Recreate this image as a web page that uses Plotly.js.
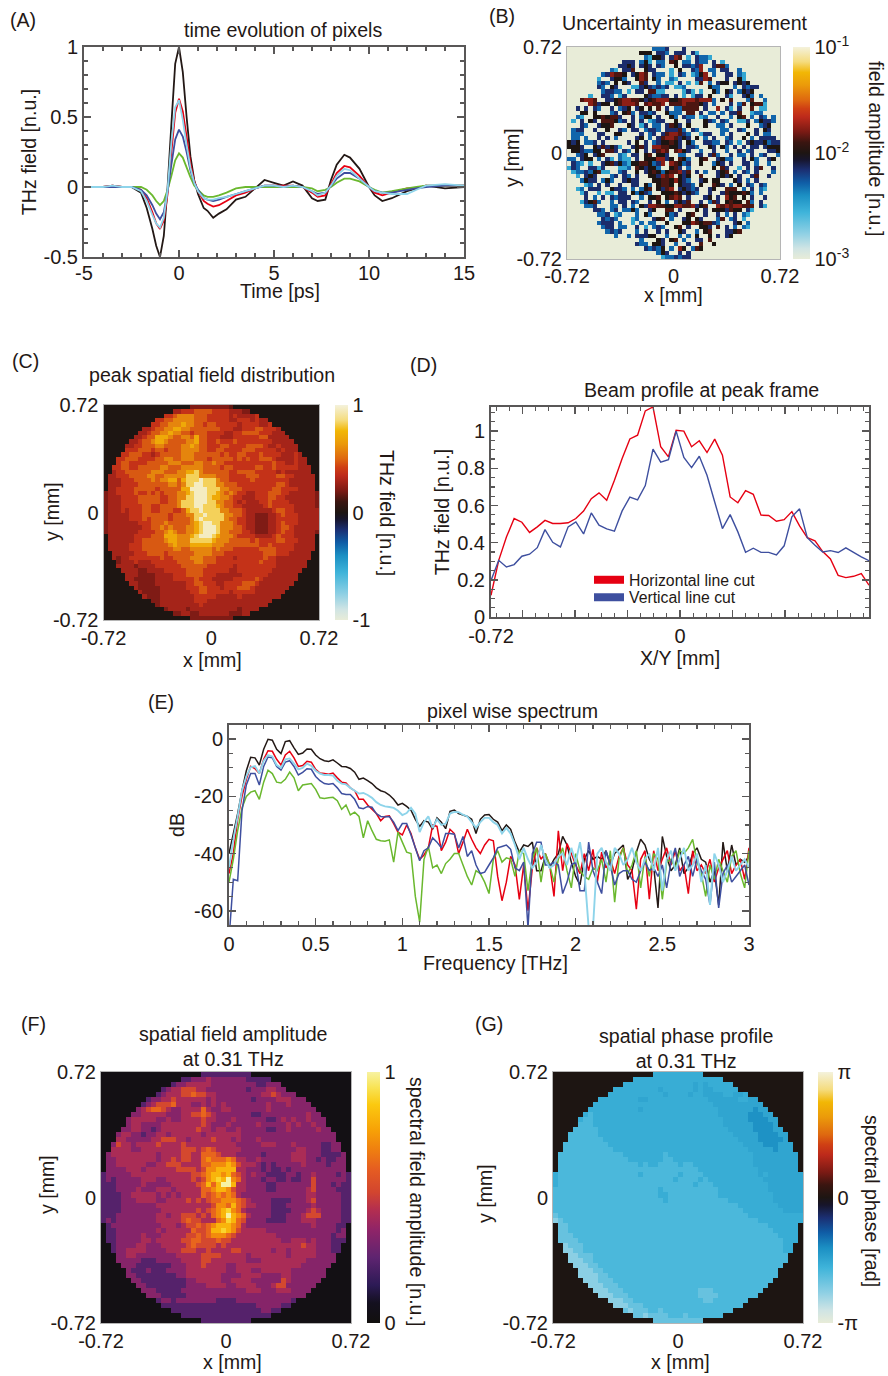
<!DOCTYPE html>
<html><head><meta charset="utf-8">
<script src="https://cdn.plot.ly/plotly-3.0.1.min.js"></script>
<style>html,body{margin:0;padding:0;background:#fff}</style></head>
<body><div id="chart" style="width:888px;height:1376px"></div>
<script>
// ---------- Panel A ----------
const tA=[-5,-4,-3.5,-3,-2.5,-2,-1.7,-1.4,-1.2,-1,-0.8,-0.6,-0.4,-0.2,0,0.2,0.4,0.6,0.8,1,1.3,1.5,1.8,2.1,2.5,3,3.5,4,4.5,5,5.5,6,6.5,7,7.3,7.7,8,8.3,8.7,9,9.5,10,10.3,10.7,11.2,12,12.5,13,14,15];
const aBlack=[0,0,0.01,0,0,-0.04,-0.15,-0.3,-0.42,-0.5,-0.35,0,0.45,0.88,1,0.82,0.5,0.22,0.05,-0.05,-0.15,-0.17,-0.22,-0.19,-0.16,-0.09,-0.07,-0.01,0.05,0.03,0.01,0.04,0.01,-0.08,-0.1,-0.09,0.05,0.16,0.23,0.21,0.13,0,-0.06,-0.1,-0.08,-0.03,-0.01,0.01,-0.01,0];
const aRed=[0,0,0.01,0,0,-0.02,-0.08,-0.18,-0.26,-0.3,-0.24,-0.05,0.25,0.53,0.63,0.54,0.36,0.17,0.04,-0.03,-0.1,-0.12,-0.14,-0.13,-0.1,-0.06,-0.04,-0.01,0.01,0.01,0.01,0.01,0,-0.04,-0.07,-0.06,0.02,0.1,0.15,0.14,0.08,0,-0.04,-0.06,-0.04,-0.01,-0.01,0.01,0.01,0.01];
const aNavy=[0,0,0,0,0,-0.02,-0.06,-0.13,-0.19,-0.23,-0.18,-0.03,0.16,0.34,0.41,0.36,0.25,0.12,0.03,-0.02,-0.08,-0.09,-0.1,-0.09,-0.07,-0.05,-0.03,-0.01,0.01,0.01,0,0.01,0,-0.03,-0.05,-0.04,0.01,0.06,0.1,0.1,0.06,0,-0.03,-0.04,-0.04,-0.02,-0.01,0,0.01,0.01];
const aGreen=[0,0,0,0,0,0,-0.02,-0.06,-0.1,-0.13,-0.1,-0.02,0.08,0.19,0.24,0.21,0.14,0.07,0.01,-0.02,-0.06,-0.07,-0.07,-0.06,-0.04,-0.01,0,0,0,0,0,0,0,-0.01,-0.03,-0.02,0,0.03,0.06,0.06,0.04,0,-0.02,-0.04,-0.03,-0.01,0,0.01,0.01,0.01];
const aCyan=[0,0,0.01,0,0,-0.03,-0.1,-0.2,-0.26,-0.29,-0.22,-0.02,0.32,0.57,0.62,0.48,0.3,0.14,0.03,-0.03,-0.08,-0.09,-0.09,-0.08,-0.07,-0.05,-0.03,-0.01,0.01,0.01,0,0.01,0,-0.03,-0.06,-0.04,0.01,0.08,0.13,0.12,0.06,0,-0.03,-0.04,-0.05,-0.05,-0.02,0.01,0.02,0.01];
// ---------- Panel D ----------
const dHoriz=[.117,.305,.43,.53,.51,.455,.485,.52,.503,.503,.507,.53,.57,.637,.668,.628,.736,.853,.958,.978,1.109,1.13,.916,.862,1.005,1.0,.916,.948,.885,.957,.871,.646,.615,.68,.66,.548,.546,.515,.524,.567,.49,.427,.41,.352,.312,.224,.212,.219,.233,.171];
const dVert=[.197,.305,.269,.282,.327,.338,.373,.47,.402,.377,.485,.512,.447,.56,.494,.474,.462,.571,.645,.63,.707,.903,.833,.847,1.0,.858,.804,.865,.763,.619,.476,.551,.458,.348,.37,.348,.348,.334,.383,.539,.582,.427,.386,.35,.357,.347,.372,.348,.323,.303];
// ---------- Panel E (one value every 0.025 THz) ----------
const eBlack=[-40,-33,-26,-18,-11,-6.3,-6.5,-9,-3.5,0,-0.3,-3.5,-5,-0.8,-0.5,-3,-5.3,-4.8,-3.4,-3.5,-5.5,-6.8,-7.5,-7.8,-7.2,-8.3,-9.5,-9.6,-10.2,-11.5,-14,-13.6,-14.5,-15.5,-17,-18,-18.5,-19.5,-21,-23,-22.4,-23.5,-24.8,-28,-30.5,-28.5,-29,-31.5,-27.5,-29,-31.3,-25.2,-24.8,-26,-26.5,-27,-28,-33,-28,-26.5,-26.3,-28,-29,-32,-30,-31.5,-36,-39.5,-37,-37.5,-36,-46,-46,-41,-45,-42,-40,-34,-37,-43,-48,-51,-42,-39,-42,-41,-42,-39,-44,-40,-38.5,-37,-49,-46,-39.5,-35,-37,-42,-44.5,-59,-34,-41,-46,-44,-38,-47,-45,-40,-38,-42,-43,-50,-46,-58,-36,-46,-37,-44,-42,-43,-41];
const eRed=[-47,-40,-28,-20,-14,-9.5,-10.3,-12,-7,-4,-4.2,-7,-9,-5.5,-4.2,-6.5,-9.5,-9.2,-7.7,-8,-10.5,-11.8,-12,-12.2,-11.8,-13.5,-15,-15.3,-17,-18,-21,-21,-23,-24.5,-26,-28.5,-27,-26.8,-29.5,-32.5,-33.5,-30,-33,-38,-42,-40.5,-38,-30,-30.5,-39,-36,-31.5,-33,-40,-36,-31.5,-35,-38,-40,-37,-35,-35.5,-48,-56.5,-50,-41,-44,-56,-44,-60,-45,-38,-42,-40,-44,-55,-32,-46,-36.5,-40,-44,-47,-40,-46,-38.5,-50,-39.5,-45,-42,-47,-41,-38,-44,-46,-59.5,-42,-39,-56,-39,-46,-42,-38,-44,-39,-46,-44,-54,-39,-46,-44,-47,-42,-50,-45,-42,-39,-47,-44,-42,-49,-38];
const eNavy=[-70,-49,-49.5,-25,-16,-12,-12,-16,-9.5,-6.2,-6.5,-9.5,-10.8,-8,-7.5,-9.5,-12.5,-11.6,-10.3,-10.5,-13,-14.5,-15.5,-15.7,-15.5,-17,-19,-19.3,-19.3,-21,-24,-24.3,-23.5,-23.8,-26,-27,-27.2,-27,-29,-32,-29.5,-29.5,-33.5,-38,-42.5,-39,-38,-34.5,-36,-38,-33,-33,-33.2,-38,-34,-41,-39,-44,-47,-46.5,-44,-41.5,-38,-37.5,-37,-38.5,-45,-46,-43,-66,-40,-36,-36,-44,-44,-43,-44,-54,-50,-44,-43,-53,-53,-36,-46,-50,-54,-39,-44,-51,-47,-46,-46,-49,-50,-46,-43,-46,-45,-48,-44,-52,-43,-38,-48,-44,-41,-48,-42,-46,-49,-58,-43,-59,-47,-44,-50,-48,-46,-44,-51];
const eGreen=[-50,-42,-32,-24,-20,-18.5,-18,-21,-15,-10.8,-12,-15,-15.3,-14,-11.5,-13.5,-18,-16,-15.7,-15.5,-17.5,-20.5,-20.7,-20.5,-20.3,-21.5,-24.5,-23,-26.5,-25.5,-27,-34.5,-28.5,-32,-35,-35.5,-35.7,-35.2,-43,-32.5,-36,-39.5,-40,-55,-64,-42,-37.5,-45,-44,-47,-43.5,-42,-40,-40,-44,-48,-51,-46,-47,-50,-54,-42,-39,-43,-41.5,-42,-48,-39,-40,-53,-42,-38,-50,-40,-44,-50,-42,-38,-46,-52,-40,-46,-48,-49,-45,-46,-42,-50,-39,-57,-42,-38,-47,-44,-39,-52,-41,-48,-40,-42,-56,-43,-42,-45,-39,-40,-38,-35,-43,-47,-55,-44,-49,-42,-46,-50,-41,-39,-47,-52,-39];
const eCyan=[-45,-35,-27,-18,-13,-9.8,-9.4,-12,-7.5,-5.5,-6,-9,-10,-7,-6.7,-8.5,-10.5,-10,-8.5,-9.3,-11,-12,-12.5,-12.5,-12.7,-14.5,-15.5,-15.8,-17,-18,-19,-18.8,-19.5,-20.5,-22,-23,-23.5,-23.7,-24,-25,-26.5,-25.8,-24,-26,-32.5,-29,-27,-31,-28,-30,-29.5,-26,-25.4,-25.5,-26.4,-27,-29,-31,-29,-27.5,-27.5,-29,-30,-33,-31,-33,-37,-42,-38,-42,-45,-43,-37,-42,-45,-44,-41,-40,-44,-38,-43,-36,-46,-66,-66,-40,-38,-43,-46,-38,-40,-44,-42,-38,-43,-46,-42,-40,-46,-38,-53,-42,-39,-46,-42,-38,-46,-44,-40,-50,-44,-58,-40,-44,-50,-46,-41,-46,-44,-42,-45];
// ---------- Image rows, top row first. One character per pixel, '.' = outside aperture ----------
const rowsB=`
..... ..... ..... ..... 33340 00400 ..... ..... ..... .....
..... ..... ..... .0555 04430 44404 2000. ..... ..... .....
..... ..... ....0 00032 55404 76020 43320 0.... ..... .....
..... ..... ..044 40352 03306 50330 43304 02... ..... .....
..... ..... .0445 40454 04300 50443 47004 6630. ..... .....
..... ....0 32044 60054 40002 05004 37033 04400 3.... .....
..... ...34 76650 45760 43302 04302 35703 00440 32... .....
..... ..200 45530 05760 53003 20000 44760 00400 520.. .....
..... .0343 05054 00640 03022 04020 26030 45504 5450. .....
..... 00430 54000 22454 34340 22300 00053 30003 04344 .....
..... 00034 43302 04406 62200 00242 02005 30540 35450 .....
....0 20044 30240 00054 33440 40202 44050 00420 04530 3....
...67 76004 45677 66545 67775 56777 67773 05060 00360 03...
...00 76455 05677 76067 66706 66766 65403 00040 36056 62...
..404 04300 40345 04505 06040 33666 60400 70420 40060 220..
..055 05000 34056 30443 40053 33066 04033 03044 60023 300..
.0320 05565 66400 40355 04005 30433 02300 40030 56030 4303.
.2040 54066 65340 40402 34400 50040 00543 04300 22403 5443.
.0043 00455 60005 40240 33046 54050 00500 33040 00500 3450.
.3440 04005 00430 44034 43044 46304 30000 03300 43004 0540.
03330 00440 05500 00403 40467 76430 02440 03040 00504 03300
03303 00404 03000 04503 04677 64540 50304 00340 05030 44440
54503 34040 00004 05040 34556 54053 00443 30430 20454 45344
55540 05464 54200 45640 77665 54044 30054 05304 04044 04555
05543 35506 64043 05040 46760 67540 03004 00300 40340 00445
00345 04560 00320 44056 05540 03300 44046 30040 33040 34003
33045 50304 20322 04055 57745 06530 05600 45330 04053 00450
04320 20045 64532 55665 34707 65340 05003 54040 04403 00300
24300 44240 00223 06545 53005 64030 00005 06400 20404 60040
02334 35622 00340 05045 65356 67460 40300 45603 04304 00030
.0204 54000 34043 04005 54767 05450 06000 45450 40046 0040.
.0035 44035 30045 44000 55665 75430 04505 50005 40304 0000.
.0002 30404 00400 44053 05665 05443 05006 54030 50430 4300.
.0230 44400 54430 30356 05467 04543 40045 00666 03040 3200.
..024 00202 20440 53543 00555 65454 30040 04655 56530 300..
..004 03040 43444 00305 56056 76040 00450 40756 05040 040..
...24 56300 30440 43004 05030 45460 04036 40565 50630 40...
...03 34000 33040 30547 76655 77667 45600 76767 76660 42...
....0 04430 34033 53004 50066 04000 50405 55465 50420 0....
..... 00334 02300 03053 00053 40056 00400 40304 03200 .....
..... 00043 43000 23000 45603 00450 54000 36034 02000 .....
..... .0344 40300 20303 30050 00557 65664 30004 5030. .....
..... ..034 40330 04020 34300 56040 05540 60403 032.. .....
..... ...03 43400 03040 04040 05400 30560 00445 60... .....
..... ....0 03003 04445 50030 03030 50050 40450 0.... .....
..... ..... .0000 00300 05405 60300 44060 0000. ..... .....
..... ..... ..000 04330 55400 30040 06005 000.. ..... .....
..... ..... ....0 00043 43503 07503 65000 0.... ..... .....
..... ..... ..... .0000 03540 04040 0000. ..... ..... .....
..... ..... ..... ..... 00233 43440 ..... ..... ..... .....`;
const rowsC=`
..... ..... ..... ..... 33333 33332 ..... ..... ..... .....
..... ..... ..... .4455 56666 55554 4433. ..... ..... .....
..... ..... ....5 56777 76665 55554 54444 5.... ..... .....
..... ..... ..556 67777 76665 55554 45554 544.. ..... .....
..... ..... .5566 77787 76656 65555 54555 5445. ..... .....
..... ....4 45667 78877 66666 66555 44555 66555 4.... .....
..... ...44 56677 87766 56665 55544 55666 65554 44... .....
..... ..445 66888 76677 68665 55444 55555 56644 444.. .....
..... .4456 67887 66667 78665 56555 65555 55554 4444. .....
..... 44556 66776 66677 87665 55665 55566 66544 54444 .....
..... 55566 65665 66677 77665 56655 55666 55555 45444 .....
....5 56665 54566 66677 76666 66565 56655 56555 54445 4....
...55 66655 55667 76677 76665 66666 56565 56665 44445 44...
...56 65555 66666 77766 67766 76655 55555 55556 55445 44...
..556 65566 66677 66677 77766 66566 55555 66556 55555 444..
..455 66666 67776 66778 89766 66665 56666 55555 45444 444..
.4455 56666 77667 77779 99777 76665 55566 65555 66554 4444.
.4445 55666 67677 88689 99a99 97665 55556 55555 55544 4444.
.4445 55566 66666 77679 9aa99 97766 65555 55555 66544 4444.
.4455 55666 66566 66688 aaaa9 99776 66555 55556 65555 4444.
34455 55655 65656 66778 9aaa9 98767 65544 55566 65544 44443
34445 55566 66655 66779 9aaa9 88776 55444 55566 55444 44443
34445 55566 66655 66799 9aaa9 97766 54544 45565 55544 44443
34445 55556 65566 66799 9aa99 98766 55444 44565 55554 44443
34445 45556 65566 65568 99a99 99776 66544 44445 66554 44444
34444 45556 66666 56667 799a9 99977 66544 33344 56555 44444
34444 45556 56666 56666 79a99 99976 65544 33344 55555 44444
34444 44455 56667 66666 789aa 99777 65544 33344 56555 44444
34444 44445 56676 76667 789aa a9777 66544 33344 56654 44444
34444 44455 55667 87667 789aa a9776 66554 33344 56554 44443
.4444 44555 56668 88777 89aaa 98777 65555 44445 65554 4444.
.4444 44556 66667 88777 99999 87776 66665 65555 66555 4444.
.4444 45556 66666 78777 88888 77766 66666 65565 55554 4444.
.4444 45556 66666 67766 77777 67666 55555 56666 55554 4444.
..444 44555 66665 66666 67777 66655 55555 55666 55544 444..
..434 45555 55565 56666 77766 65555 45555 55655 44444 444..
...34 44544 45555 55666 67766 65555 55555 56555 44444 44...
...44 44344 44555 55566 66665 55555 45555 55555 44444 44...
....4 44433 44445 55556 66655 55554 45555 55554 44444 4....
..... 44433 33444 45556 66655 54444 44555 55544 44444 .....
..... 44333 33444 45555 56555 44444 55555 65444 44444 .....
..... .4433 33444 44445 56655 54455 55666 54444 4444. .....
..... ..433 33344 44445 55665 55455 56665 44444 444.. .....
..... ...43 33344 44444 55665 55554 55555 44444 44... .....
..... ....4 33344 44444 45555 54444 45444 44444 4.... .....
..... ..... .3344 44444 45554 44444 44444 4444. ..... .....
..... ..... ..344 44444 44544 44444 44444 444.. ..... .....
..... ..... ....3 44443 44444 44444 43444 4.... ..... .....
..... ..... ..... .3344 33444 44443 3344. ..... ..... .....
..... ..... ..... ..... 33333 33333 ..... ..... ..... .....`;
const rowsF=`
..... ..... ..... ..... 22222 22222 ..... ..... ..... .....
..... ..... ..... .2233 34333 33332 2222. ..... ..... .....
..... ..... ....2 33444 44333 33333 32233 3.... ..... .....
..... ..... ..234 45554 43333 33332 33344 33... ..... .....
..... ..... .2344 45565 54433 33333 33445 4333. ..... .....
..... ....2 33445 44444 43433 33333 23333 44433 3.... .....
..... ...23 45556 44433 43434 33333 33343 33433 33... .....
..... ..345 66543 34444 64334 43333 33343 33333 333.. .....
..... .3344 44433 34455 65433 33333 22333 33333 3433. .....
..... 34444 43343 34444 54433 34333 33322 34343 34333 .....
..... 34433 33444 44444 54333 43333 34333 33434 33433 .....
....3 34433 23444 44445 44344 33433 33322 33433 33343 3....
...34 43323 34434 44444 34444 44433 33333 33333 33333 33...
...44 33333 44555 44344 44544 43433 34333 33333 33333 33...
..354 43444 45444 45444 44444 44333 33444 33343 33332 233..
..444 43344 44444 45554 56544 44433 33333 33334 43332 233..
.3444 44444 43444 45544 66654 44333 33233 33344 43332 2223.
.3344 44444 43445 45544 67666 76443 34333 33344 43323 2233.
.3344 44443 34455 54444 66777 87544 43232 33333 43333 2333.
.3333 44434 44444 55554 57788 88443 33232 23233 33333 3333.
23333 34444 44444 44455 67887 86543 43322 22332 33433 33232
23233 33344 43344 44454 57898 a7643 33233 22322 33533 33332
22233 33343 33334 44445 6868a a8443 33322 33333 33533 32322
22233 33433 34443 44444 66788 75443 33322 33333 34533 33222
22223 34444 43434 34444 65676 76433 33333 33333 34433 33322
22223 33444 43344 44545 45667 77654 33332 22233 34533 33322
22223 33333 34444 44444 44577 68654 43332 22333 33433 33322
22223 33333 33444 44445 45678 97643 33332 22233 34543 33322
22233 33333 34434 45554 54678 a8764 33332 22333 45553 33322
23233 33333 34444 45655 44467 98653 33322 22333 44433 33322
.2333 33333 33444 34556 56788 87643 33333 33333 33433 3322.
.2233 33333 34344 44465 56889 87544 44433 33333 33333 3323.
.2233 33343 33444 44556 56777 65444 44444 33333 33333 3233.
.2233 33344 34444 45566 55565 54444 44444 43344 43433 3222.
..233 33443 33444 44565 55545 44444 44444 44444 54433 322..
..233 44443 33344 45554 45444 45544 44443 44344 44433 322..
...33 44333 33333 44444 55554 44443 44444 44344 44433 33...
...33 33322 23333 34444 55444 44443 33444 44444 43333 33...
....3 33222 22223 33444 54444 33444 44444 44444 33333 3....
..... 32223 22233 33444 44444 33444 33444 44433 33333 .....
..... 33222 22222 33444 44443 33344 44333 34433 33333 .....
..... .3322 22222 22334 44443 34444 33333 35433 3333. .....
..... ..332 22222 22333 34444 33444 43334 55333 333.. .....
..... ...33 32222 23333 33333 33334 44333 44433 33... .....
..... ....3 33222 22333 33333 33333 33333 33333 3.... .....
..... ..... .2332 33333 33322 22333 33333 3332. ..... .....
..... ..... ..222 22222 22222 22222 23333 322.. ..... .....
..... ..... ....2 22222 22222 22222 22332 2.... ..... .....
..... ..... ..... .2222 22222 22222 2222. ..... ..... .....
..... ..... ..... ..... 22222 22222 ..... ..... ..... .....`;
const rowsG=`
..... ..... ..... ..... 33333 33333 ..... ..... ..... .....
..... ..... ..... .3333 33333 33333 3333. ..... ..... .....
..... ..... ....3 33333 33333 33323 23333 3.... ..... .....
..... ..... ..333 33333 32333 33323 22333 33... ..... .....
..... ..... .3333 33333 33233 33233 22223 3223. ..... .....
..... ....3 33333 33223 33333 33333 32222 22332 2.... .....
..... ...33 33333 33333 33333 33333 33222 22222 22... .....
..... ..333 33333 33233 33333 33333 33322 22222 122.. .....
..... .3433 33333 33333 33333 33333 33322 22221 1122. .....
..... 34433 33333 33333 33333 33333 33332 22221 11122 .....
..... 44433 33333 33333 33333 33333 33332 22222 11112 .....
....4 44443 33333 33333 33333 33333 33333 22222 11112 2....
...44 44443 33333 33333 33333 33333 33333 32222 21111 22...
...44 44444 33333 33333 33333 33333 33333 33222 21111 12...
..444 44444 43333 33333 33333 33333 33333 33322 22111 222..
..444 44444 44333 33333 33333 33333 33333 33332 22221 222..
.4444 44444 44443 33333 33433 33333 33333 33333 22222 2222.
.4444 44444 44444 33333 33443 33333 33333 33333 22222 2222.
.4444 44444 44444 44343 34444 34433 33333 33333 22222 2222.
.4444 44444 44444 44444 44444 44443 33333 33333 32222 2222.
34444 44444 44444 44344 44444 34444 33333 33333 32322 22222
34444 44444 44444 44444 44443 44443 43333 33333 33222 22222
34444 44444 44444 44444 44444 44434 44333 33333 33322 22222
44444 44444 44444 44444 43444 44444 44433 33333 33322 22222
44444 44444 44444 44444 43344 44444 44433 33333 33332 22222
44444 44444 44444 44444 44344 44444 44444 33333 33332 22222
44444 44444 44444 44444 44444 44444 44444 44333 33333 22222
44444 44444 44444 44444 44444 44444 44444 44433 33333 32222
54444 44444 44444 44444 44444 44444 44444 44443 33333 33333
65444 44444 44444 44444 44444 44444 44444 44444 43333 33333
.5544 44444 44444 44444 44444 44444 44444 44444 44433 3333.
.5544 44444 44444 44444 44444 44444 44444 44444 44443 3333.
.5554 44444 44444 44444 44444 44444 44444 44444 44444 3333.
.5555 44444 44444 44444 44444 44444 44444 44444 44444 4333.
..655 54444 44444 44444 44444 44444 44444 44444 44444 433..
..665 54444 44444 44444 44444 44444 44444 44444 44444 433..
...66 55544 44444 44444 44444 44444 44444 44444 44444 44...
...66 65544 44444 44444 44444 44444 44444 44444 44444 44...
....6 66554 44444 44444 44444 44444 44444 44444 44444 4....
..... 66655 44444 44444 44444 44444 44444 44444 44444 .....
..... 66665 54444 44444 44444 44444 44444 44444 44444 .....
..... .6665 55444 44444 44444 44444 44444 44444 4444. .....
..... ..666 55544 44444 44444 44444 44444 44444 444.. .....
..... ...66 65554 44444 44444 44445 55444 44444 44... .....
..... ....6 66555 44444 44444 44445 55544 44444 4.... .....
..... ..... .6665 54444 44444 44444 55444 4444. ..... .....
..... ..... ..666 55544 44444 44444 44444 444.. ..... .....
..... ..... ....5 65554 45444 44444 44444 4.... ..... .....
..... ..... ..... .5565 55544 45444 4444. ..... ..... .....
..... ..... ..... ..... 55555 55555 ..... ..... ..... .....`;
// Character -> physical level of each image
const levelsB={'.':-3,'0':-3,'1':-2.75,'2':-2.5,'3':-2.3,'4':-2.15,'5':-2,'6':-1.87,'7':-1.76};
const levelsC={'.':0,'2':0.16,'3':0.21,'4':0.29,'5':0.37,'6':0.47,'7':0.58,'8':0.7,'9':0.83,'a':0.96};
const levelsF={'.':0.03,'2':0.24,'3':0.35,'4':0.43,'5':0.53,'6':0.63,'7':0.72,'8':0.82,'9':0.9,'a':1};
const levelsG={'.':0,'1':-1.3,'2':-1.55,'3':-1.66,'4':-1.85,'5':-2.07,'6':-2.36};
const divergingScale=[[0,'#e8ecd8'],[0.05,'#cfe4e4'],[0.12,'#8fd0e4'],[0.22,'#3fb4da'],[0.30,'#1b8fc3'],[0.36,'#0f5da6'],[0.42,'#1b2f72'],[0.47,'#17152b'],[0.5,'#1d1512'],[0.55,'#3a1510'],[0.60,'#7a1a14'],[0.67,'#bd2a1b'],[0.71,'#cf3f14'],[0.75,'#de6810'],[0.82,'#eb9a0a'],[0.88,'#f2b705'],[0.93,'#f5dc7e'],[1,'#f4f2dc']];
const infernoScale=[[0,'#12100e'],[0.08,'#14101f'],[0.15,'#2c1a55'],[0.26,'#5e2470'],[0.37,'#8f2468'],[0.45,'#b32e50'],[0.52,'#d2452f'],[0.61,'#e55c22'],[0.69,'#ef7f10'],[0.77,'#f7a206'],[0.87,'#fbc910'],[0.94,'#f8e457'],[1,'#f7f2a2']];

const W=888,H=1376;
const TXT='#231815',FRAME='#595757',FONT='"Liberation Sans",Arial,sans-serif',TICK=20,TITLE=19.6;
const LINE={black:'#231815',red:'#e60012',navy:'#3e4f9f',green:'#6ab82e',cyan:'#8ed4ea'};
const px=(a,b)=>[a/W,b/W], py=(a,b)=>[1-b/H,1-a/H];
function matrix(txt,lv){return txt.trim().split('\n').map(r=>r.replace(/\s/g,'').split('').map(c=>lv[c])).reverse();}
const cells=Array.from({length:50},(_,i)=>-0.72+(i+0.5)*1.44/50);
const freq=eBlack.map((_,i)=>i*0.025);
const xD=dHoriz.map((_,i)=>-0.72+i*1.44/49);

const traces=[];
function lines(x,ys,xa,ya,w){ys.forEach(([y,c,own])=>traces.push({type:'scatter',mode:'lines',x,y,xaxis:xa,yaxis:ya,line:{color:c,width:own||w,simplify:false},showlegend:false,hoverinfo:'skip'}));}
lines(tA,[[aBlack,LINE.black],[aRed,LINE.red],[aGreen,LINE.green],[aNavy,LINE.navy],[aCyan,LINE.cyan]],'x','y',1.8);
lines(xD,[[dHoriz,LINE.red],[dVert,LINE.navy]],'x4','y4',1.4);
lines(freq,[[eBlack,LINE.black],[eRed,LINE.red],[eGreen,LINE.green],[eNavy,LINE.navy],[eCyan,LINE.cyan,1.9]],'x5','y5',1.5);
[['Horizontal line cut',LINE.red,'legend'],['Vertical line cut',LINE.navy,'legend2']].forEach(([n,c,l])=>traces.push({type:'scatter',mode:'lines',name:n,x:[null],y:[null],xaxis:'x4',yaxis:'y4',legend:l,line:{color:c,width:8},showlegend:true}));
traces.push({type:'scatter',mode:'lines',x:[null],y:[null],xaxis:'x8',yaxis:'y4',showlegend:false,hoverinfo:'skip'});

function heat(z,xa,ya,scale,zmin,zmax,cb){traces.push({type:'heatmap',x:cells,y:cells,z,xaxis:xa,yaxis:ya,colorscale:scale,zmin,zmax,hoverinfo:'skip',
  colorbar:Object.assign({xanchor:'left',xpad:0,ypad:0,yanchor:'top',lenmode:'pixels',thicknessmode:'pixels',outlinewidth:0,ticks:'',tickmode:'array',tickfont:{family:FONT,size:TICK,color:TXT}},cb)});}
function cbar(x0,x1,y0,y1,vals,text){return {x:x0/W,thickness:x1-x0,y:1-y0/H,len:y1-y0,tickvals:vals,ticktext:text};}
heat(matrix(rowsB,levelsB),'x2','y2',divergingScale,-3,-1,cbar(793,810,47,259,[-3,-2,-1],['10<sup>-3</sup>','10<sup>-2</sup>','10<sup>-1</sup>']));
heat(matrix(rowsC,levelsC),'x3','y3',divergingScale,-1,1,cbar(335,348,405,620,[-1,0,1],['-1','0','1']));
heat(matrix(rowsF,levelsF),'x6','y6',infernoScale,0,1,cbar(367,380,1072,1323,[0,1],['0','1']));
heat(matrix(rowsG,levelsG),'x7','y7',divergingScale,-Math.PI,Math.PI,cbar(818,833,1072,1323,[-Math.PI,0,Math.PI],['-π','0','π']));

const txtFont=()=>({family:FONT,size:TITLE,color:TXT});
function lineAxis(dom,range,title,standoff,major,labels,minorTick0,minorStep,anchor){const a={domain:dom,range,anchor,showgrid:false,zeroline:false,showline:true,mirror:'ticks',linecolor:FRAME,linewidth:2,ticks:'inside',ticklen:7,tickcolor:FRAME,tickwidth:1.6,
  tickmode:'array',tickvals:major,ticktext:labels,tickfont:{family:FONT,size:TICK,color:TXT},minor:{tick0:minorTick0,dtick:minorStep,ticks:'inside',ticklen:4,tickcolor:FRAME,tickwidth:1.2,showgrid:false}};if(title)a.title={text:title,standoff,font:txtFont()};return a;}
function imgAxis(dom,anchor){return {domain:dom,range:[-0.72,0.72],anchor,showgrid:false,zeroline:false,showline:true,mirror:true,linecolor:'#b5b5b5',linewidth:1,ticks:'',tickmode:'array',tickvals:[-0.72,0,0.72],ticktext:['-0.72','0','0.72'],tickfont:{family:FONT,size:TICK,color:TXT}};}

const layout={width:W,height:H,margin:{l:0,r:0,t:0,b:0},paper_bgcolor:'#fff',plot_bgcolor:'#fff',font:{family:FONT,color:TXT},
 legend:{x:589/W,y:1-563/H,xanchor:'left',yanchor:'top',bgcolor:'rgba(0,0,0,0)',font:{family:FONT,size:15.8,color:TXT},itemwidth:30},
 legend2:{x:589/W,y:1-580.5/H,xanchor:'left',yanchor:'top',bgcolor:'rgba(0,0,0,0)',font:{family:FONT,size:15.8,color:TXT},itemwidth:30},
 xaxis:Object.assign(lineAxis(px(84,464),[-5,15],null,0,[-5,0,5,10,15],['-5','0','5','10','15'],-5,1,'y'),{ticklabelstandoff:-3}),
 yaxis:lineAxis(py(47,257),[-0.5,1],'THz field [n.u.]',2,[-0.5,0,0.5,1],['-0.5','0','0.5','1'],-0.5,0.1,'x'),
 xaxis2:Object.assign(imgAxis(px(567,780),'y2'),{ticklabelstandoff:-1}),yaxis2:imgAxis(py(47,259),'x2'),
 xaxis3:imgAxis(px(103.5,319),'y3'),yaxis3:imgAxis(py(405,620),'x3'),
 xaxis4:lineAxis(px(491,869),[-0.72,0.72],'X/Y [mm]',4,[-0.72,0,0.72],['-0.72','0','0.72'],-0.7,0.05,'y4'),
 xaxis8:{overlaying:'x4',domain:px(491,869),range:[-0.72,0.72],anchor:'y4',showgrid:false,zeroline:false,showline:false,mirror:'ticks',ticks:'inside',ticklen:7,tickcolor:FRAME,tickwidth:1.6,tickmode:'array',tickvals:[-0.6,-0.4,-0.2,0.2,0.4,0.6],showticklabels:false},
 yaxis4:lineAxis(py(407,617),[0,1.13],'THz field [n.u.]',2,[0,0.2,0.4,0.6,0.8,1],['0','0.2','0.4','0.6','0.8','1'],0,0.05,'x4'),
 xaxis5:lineAxis(px(229,749),[0,3],null,0,[0,0.5,1,1.5,2,2.5,3],['0','0.5','1','1.5','2','2.5','3'],0,0.1,'y5'),
 yaxis5:lineAxis(py(725,925),[-65,5],'dB',4,[-60,-40,-20,0],['-60','-40','-20','0'],-65,5,'x5'),
 xaxis6:imgAxis(px(101,351),'y6'),yaxis6:imgAxis(py(1072,1323),'x6'),
 xaxis7:imgAxis(px(553,803),'y7'),yaxis7:imgAxis(py(1072,1323),'x7'),
 annotations:[
  ['(A)',23,20],['(B)',502,16],['(C)',25,361],['(D)',423,365],['(E)',161,702],['(F)',33,1024],['(G)',489,1024],
  ['time evolution of pixels',283,30],['Uncertainty in measurement',685,23],['peak spatial field distribution',212,375],['Beam profile at peak frame',701,390],['pixel wise spectrum',512,711],['spatial field amplitude<br>at 0.31 THz',233,1046],['spatial phase profile<br>at 0.31 THz',686,1048],
  ['Time [ps]',280,291],['x [mm]',673,295],['x [mm]',212,660],['Frequency [THz]',495,963],['x [mm]',232,1362],['x [mm]',680,1362]
 ].map(([t,x,y])=>note(t,x,y,0)).concat([
  ['y [mm]',512,158,-90],['y [mm]',52,512,-90],['y [mm]',47,1185,-90],['y [mm]',485,1194,-90],
  ['field amplitude [n.u.]',876,148,90],['THz field [n.u.]',387,513,90],['spectral field amplitude [n.u.]',417,1201,90],['spectral phase [rad]',872,1201,90]
 ].map(([t,x,y,a])=>note(t,x,y,a)))};
function note(text,x,y,textangle){return {text,x:x/W,y:1-y/H,xref:'paper',yref:'paper',xanchor:'center',yanchor:'middle',showarrow:false,textangle,font:txtFont()};}
Plotly.newPlot('chart',traces,layout,{staticPlot:true,displayModeBar:false});
</script></body></html>
